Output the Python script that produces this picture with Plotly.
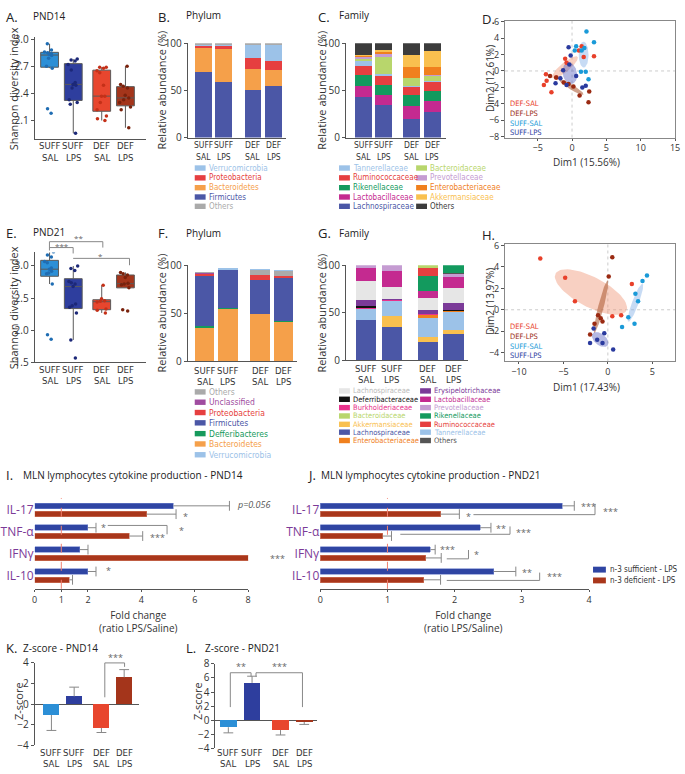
import numpy as np
import plotly.graph_objects as go

W, H = 685, 774
FONT = "Open Sans"
NARROW = "Liberation Sans Narrow, DejaVu Sans Condensed, Roboto Condensed, Roboto"

groups_top = ["SUFF", "SUFF", "DEF", "DEF"]
groups_bottom = ["SAL", "LPS", "SAL", "LPS"]
pos_box = [0, 1, 2.2, 3.2]
pos_bar = [0, 1, 2.4, 3.4]
group_colors = ["#2c8fd6", "#2e3e9e", "#e8462e", "#a4351b"]
point_colors = ["#1f6db3", "#1c2878", "#c43018", "#7a220c"]

# A. Shannon diversity PND14
sh14_suff_sal = [2.18, 2.23, 2.68, 2.70, 2.79, 2.82, 2.83, 2.84, 2.85, 2.86, 2.88, 2.95]
sh14_suff_lps = [1.96, 2.28, 2.30, 2.33, 2.46, 2.49, 2.50, 2.52, 2.66, 2.72, 2.76, 2.77, 2.78]
sh14_def_sal = [2.10, 2.12, 2.15, 2.22, 2.30, 2.37, 2.37, 2.49, 2.63, 2.65, 2.68, 2.69, 2.69]
sh14_def_lps = [2.02, 2.22, 2.25, 2.30, 2.33, 2.35, 2.38, 2.46, 2.48, 2.50, 2.70]

# E. Shannon diversity PND21
sh21_suff_sal = [1.86, 1.93, 2.72, 2.88, 2.89, 2.92, 2.95, 2.97, 3.05, 3.07, 3.14, 3.17, 3.22]
sh21_suff_lps = [1.57, 1.85, 2.27, 2.36, 2.38, 2.41, 2.68, 2.72, 2.74, 2.76, 2.93, 2.96, 3.00]
sh21_def_sal = [2.27, 2.31, 2.33, 2.44, 2.45, 2.46, 2.49, 2.70]
sh21_def_lps = [2.30, 2.32, 2.66, 2.71, 2.72, 2.73, 2.82, 2.86, 2.88, 2.90]

# B. Phylum PND14 (%), stacked bottom -> top
phy14_colors = ["#4b57a6", "#f5a04a", "#e63f40", "#9cc2e8", "#aaaaaa"]
phy14_firmicutes = [70, 59, 50, 55]
phy14_bacteroidetes = [25.5, 35.5, 22.5, 17]
phy14_proteobacteria = [2, 3, 12, 9]
phy14_verrucomicrobia = [0.3, 0.3, 14, 17.5]
phy14_others = [2.2, 2.2, 1.5, 1.5]

# C. Family PND14 (%)
fam14_colors = ["#4b57a6", "#c42a90", "#139a5e", "#e63f40", "#9cc2e8", "#b8d66c",
                "#c59cd2", "#f0801e", "#f9c04f", "#3c3c3c"]
fam14_lachno = [43, 35, 20, 27.5]
fam14_lacto = [12, 10.5, 14, 11]
fam14_riken = [11.5, 10.5, 11.5, 10.5]
fam14_rumino = [9.5, 9, 8, 10.3]
fam14_tanner = [5, 2, 1.5, 0.7]
fam14_bacteroid = [2.4, 19, 8, 5.5]
fam14_prevo = [2.1, 3, 0.5, 0.5]
fam14_entero = [1.5, 2.4, 11.5, 9]
fam14_akker = [0.5, 1, 13, 17]
fam14_others = [12.5, 7.6, 12, 8]

# F. Phylum PND21 (%)
phy21_colors = ["#f5a04a", "#169a5c", "#4b57a6", "#e63f40", "#a04ca0", "#aaaaaa", "#9cc2e8"]
phy21_bacteroidetes = [35.4, 55, 49.3, 41.5]
phy21_defferibacteres = [1.3, 0.8, 0.4, 0.7]
phy21_firmicutes = [52.3, 39.2, 35.3, 44.5]
phy21_proteobacteria = [2.5, 0.6, 5, 2.3]
phy21_unclassified = [1.0, 0.2, 0.2, 0.2]
phy21_others = [0.2, 0, 4.8, 5]
phy21_verrucomicrobia = [0, 0.2, 0.3, 0.6]

# G. Family PND21 (%)
fam21_colors = ["#4b57a6", "#f9c04f", "#9cc2e8", "#f0801e", "#e8328c", "#111111", "#7b3a98",
                "#e6e6e6", "#c42a90", "#c59cd2", "#555555", "#139a5e", "#e63f40", "#b8d66c"]
fam21_lachno = [43, 35.5, 19.7, 27.6]
fam21_akker = [0, 11, 5.3, 4.1]
fam21_tanner = [11.5, 16.5, 20, 19.3]
fam21_entero = [0, 0, 3, 1.4]
fam21_burk = [1, 1, 0.5, 0]
fam21_deferri = [1.5, 0, 0, 1]
fam21_erysip = [7, 1, 4, 6.9]
fam21_lachno_other = [19.4, 12, 13.1, 15.6]
fam21_lacto = [13.6, 17, 7.5, 12.1]
fam21_prevo = [3, 6, 0, 2.7]
fam21_others = [0, 0, 0, 1.3]
fam21_riken = [0, 0, 15.9, 8]
fam21_rumino = [0, 0, 8, 0]
fam21_bacteroid = [0, 0, 3, 0]

# D. PCA PND14
pca_names = ["DEF-SAL", "DEF-LPS", "SUFF-SAL", "SUFF-LPS"]
pca_colors = ["#e8402a", "#9a2a12", "#1a9ad8", "#2a3a9e"]
pca_fill = ["rgba(240,150,120,0.45)", "rgba(170,85,45,0.55)",
            "rgba(130,175,230,0.45)", "rgba(90,100,190,0.45)"]
d14_def_sal_x = [1.4, 1.0, 1.7, 3.2, -1.0, -0.8, -3.8, -4.1, -3.7, -3.0, -2.3]
d14_def_sal_y = [3.0, 2.5, 1.7, 1.8, 1.5, 1.0, -0.4, -1.7, -1.2, -2.6, -0.8]
d14_def_lps_x = [-3.2, -2.3, -1.2, 0.2, 1.1, 2.4, 2.5, -0.5]
d14_def_lps_y = [-0.6, -0.8, -1.4, -1.9, -3.0, -3.8, -2.5, -1.6]
d14_suff_sal_x = [2.1, 3.2, 0.6, 1.8, 0.4, 1.4, 1.3, 2.0, 2.4]
d14_suff_sal_y = [4.8, 3.5, 3.0, 2.8, 2.5, 2.5, -0.1, -0.1, -1.0]
d14_suff_lps_x = [-0.5, -0.2, -0.4, -1.3, 0.6, -1.7, -2.4, -0.8, 1.5, 2.0]
d14_suff_lps_y = [2.9, 1.9, 0.8, 0.1, -0.6, -0.9, -1.5, -1.7, -2.0, -1.8]

# H. PCA PND21
d21_def_sal_x = [-7.6, -4.8, -3.7, 2.7, 1.5, 0.5]
d21_def_sal_y = [4.8, 3.0, 0.8, 2.4, -0.5, -0.6]
d21_def_lps_x = [0.5, 0.1, -1.1, -0.8, -0.6, -1.5, -2.0]
d21_def_lps_y = [4.9, 3.1, -0.5, -0.8, -1.1, -1.3, -2.3]
d21_suff_sal_x = [4.4, 3.9, 3.1, 3.4, 2.3, 1.6, 3.0]
d21_suff_sal_y = [3.2, 2.7, 1.5, 0.8, -0.7, -1.6, -1.3]
d21_suff_lps_x = [-1.6, -0.4, -1.2, -2.0, -0.6, 0.6]
d21_suff_lps_y = [-1.75, -2.2, -2.8, -3.1, -3.1, -3.7]

# I / J. cytokines, fold change LPS/Saline
cytokines = ["IL-17", "TNF-α", "IFNγ", "IL-10"]
cyt_pos = [3, 2, 1, 0]
i_suff = [5.2, 2.0, 1.7, 2.0]
i_suff_err = [2.1, 0.3, 0.3, 0.3]
i_def = [4.2, 3.55, 8.2, 1.3]
i_def_err = [1.1, 0.5, 0.5, 0.12]
j_suff = [3.6, 2.38, 1.64, 2.58]
j_suff_err = [0.18, 0.16, 0.07, 0.33]
j_def = [1.79, 0.93, 1.57, 1.54]
j_def_err = [0.28, 0.13, 0.23, 0.25]

# K / L. Z-scores
k_z = [-1.05, 0.75, -2.3, 2.6]
k_err = [1.5, 0.9, 0.45, 0.75]
l_z = [-1.0, 5.3, -1.4, -0.25]
l_err = [0.8, 0.95, 0.7, 0.35]

fig = go.Figure()
layout = dict(width=W, height=H, margin=dict(l=0, r=0, t=0, b=0),
              paper_bgcolor="white", plot_bgcolor="white", showlegend=False,
              barmode="stack", font=dict(family=FONT, color="#333"))
annotations = []
shapes = []


def ids(n):
    return ("x", "y") if n == 1 else (f"x{n}", f"y{n}")


def axis(n, letter, a, b, rng, **kw):
    if letter == "x":
        dom = [a / W, b / W]
    else:
        dom = [1 - b / H, 1 - a / H]
    d = dict(domain=dom, range=rng, showgrid=False, zeroline=False, showline=True,
             linecolor="#555", linewidth=1, ticks="outside", ticklen=3, tickcolor="#555",
             tickangle=0, tickfont=dict(size=10, color="#333", family=FONT), fixedrange=True)
    d.update(kw)
    other = "y" if letter == "x" else "x"
    d["anchor"] = other if n == 1 else f"{other}{n}"
    layout[f"{letter}axis" + ("" if n == 1 else str(n))] = d


def txt(x, y, s, size=10, color="#333", xanchor="left", family=FONT, angle=0, xref="paper"):
    xv = x / W if xref == "paper" else x
    annotations.append(dict(x=xv, y=1 - y / H, xref=xref, yref="paper", text=s,
                            showarrow=False, xanchor=xanchor, yanchor="middle",
                            textangle=angle, font=dict(size=size, color=color, family=family)))


def line(x0, y0, x1, y1, color="#888", dash=None):
    shapes.append(dict(type="line", xref="paper", yref="paper", x0=x0 / W, y0=1 - y0 / H,
                       x1=x1 / W, y1=1 - y1 / H, line=dict(color=color, width=1, dash=dash)))


def swatch(x, y, color, w=11, h=6):
    shapes.append(dict(type="rect", xref="paper", yref="paper", x0=x / W, x1=(x + w) / W,
                       y0=1 - (y + h / 2) / H, y1=1 - (y - h / 2) / H,
                       fillcolor=color, line=dict(width=0)))


def group_labels(n, pos, y1, y2, size=9.5):
    xa, _ = ids(n)
    for p, a, b in zip(pos, groups_top, groups_bottom):
        txt(p, y1, a, size=size, xanchor="center", family=NARROW, xref=xa)
        txt(p, y2, b, size=size, xanchor="center", family=NARROW, xref=xa)


# ---------- A / E : box plots ----------
for n, data, yr, ytv, top, bot, ly in [
    (1, [sh14_suff_sal, sh14_suff_lps, sh14_def_sal, sh14_def_lps], [1.9, 3.02],
     [2.1, 2.4, 2.7, 3.0], 31, 134, (141, 153)),
    (5, [sh21_suff_sal, sh21_suff_lps, sh21_def_sal, sh21_def_lps], [1.5, 3.21],
     [1.5, 2.0, 2.5, 3.0], 250, 362, (369, 380))]:
    xa, ya = ids(n)
    for i, vals in enumerate(data):
        fig.add_trace(go.Box(x=[pos_box[i]] * len(vals), y=vals, xaxis=xa, yaxis=ya,
                             boxpoints="all", jitter=0.8, pointpos=0, width=0.75,
                             fillcolor=group_colors[i], line=dict(color="#5a5a5a", width=1),
                             whiskerwidth=0, marker=dict(color=point_colors[i], size=3.5)))
    axis(n, "x", 32, 145, [-0.63, 4.08], showticklabels=False, ticks="")
    axis(n, "y", top, bot, yr, tickvals=ytv, ticktext=[f"{v:.1f}" for v in ytv])
    group_labels(n, pos_box, *ly)

# ---------- B C F G : stacked bars ----------
stacks = [
    (2, [phy14_firmicutes, phy14_bacteroidetes, phy14_proteobacteria, phy14_verrucomicrobia,
         phy14_others], phy14_colors, (187, 286, 202.5, 21), (37, 133), 0.81, (141, 153), 8.5),
    (3, [fam14_lachno, fam14_lacto, fam14_riken, fam14_rumino, fam14_tanner, fam14_bacteroid,
         fam14_prevo, fam14_entero, fam14_akker, fam14_others], fam14_colors,
     (347, 448, 364.5, 20.5), (37, 133), 0.83, (141, 153), 8.5),
    (6, [phy21_bacteroidetes, phy21_defferibacteres, phy21_firmicutes, phy21_proteobacteria,
         phy21_unclassified, phy21_others, phy21_verrucomicrobia], phy21_colors,
     (187, 297, 204, 23.5), (263, 361), 0.85, (370, 381), 9.5),
    (7, [fam21_lachno, fam21_akker, fam21_tanner, fam21_entero, fam21_burk, fam21_deferri,
         fam21_erysip, fam21_lachno_other, fam21_lacto, fam21_prevo, fam21_others, fam21_riken,
         fam21_rumino, fam21_bacteroid], fam21_colors, (347, 470, 367.5, 26), (263, 360), 0.8,
     (368, 379), 9.5),
]
for n, series, cols, (x0, x1, c0, unit), (top, bot), bw, ly, gsize in stacks:
    xa, ya = ids(n)
    for vals, col in zip(series, cols):
        fig.add_trace(go.Bar(x=pos_bar, y=vals, xaxis=xa, yaxis=ya, width=bw,
                             marker=dict(color=col, line=dict(width=0))))
    axis(n, "x", x0, x1, [(x0 - c0) / unit, (x1 - c0) / unit], showticklabels=False, ticks="")
    axis(n, "y", top, bot, [0, 100], tickvals=[0, 50, 100])
    group_labels(n, pos_bar, *ly, size=gsize)


# ---------- D H : PCA ----------
def conf_ellipse(xs, ys):
    pts = np.array([xs, ys], dtype=float)
    m = pts.mean(axis=1)
    vals, vecs = np.linalg.eigh(np.cov(pts))
    r = np.sqrt(5.991 * np.clip(vals, 1e-6, None) / pts.shape[1])
    t = np.linspace(0, 2 * np.pi, 80)
    e = vecs @ np.array([np.cos(t) * r[0], np.sin(t) * r[1]]) + m[:, None]
    return e[0], e[1]


pca_legend = "<br>".join(f"<span style='color:{c}'>{nm}</span>"
                         for nm, c in zip(pca_names, pca_colors))
pca_sets = [
    (4, [(d14_def_sal_x, d14_def_sal_y), (d14_def_lps_x, d14_def_lps_y),
         (d14_suff_sal_x, d14_suff_sal_y), (d14_suff_lps_x, d14_suff_lps_y)],
     (14, 133), [-9.75, 15], [-8.12, 6.12], list(range(-5, 16, 5)), list(range(-8, 7, 2)),
     "Dim1 (15.56%)", "Dim2 (12.61%)", 158, 73, 113),
    (8, [(d21_def_sal_x, d21_def_sal_y), (d21_def_lps_x, d21_def_lps_y),
         (d21_suff_sal_x, d21_suff_sal_y), (d21_suff_lps_x, d21_suff_lps_y)],
     (241, 361), [-11.56, 7.56], [-4.83, 6.18], [-10, -5, 0, 5], list(range(-4, 7, 2)),
     "Dim1 (17.43%)", "Dim2 (13.97%)", 387, 300, 340),
]
for n, sets, (top, bot), xr, yr, xt, yt, xtitle, ytitle, xty, yty, legy in pca_sets:
    xa, ya = ids(n)
    for (xs, ys), fc in zip(sets, pca_fill):
        ex, ey = conf_ellipse(xs, ys)
        fig.add_trace(go.Scatter(x=ex, y=ey, xaxis=xa, yaxis=ya, mode="lines", fill="toself",
                                 fillcolor=fc, line=dict(width=0), hoverinfo="skip"))
    for (xs, ys), col in zip(sets, pca_colors):
        fig.add_trace(go.Scatter(x=xs, y=ys, xaxis=xa, yaxis=ya, mode="markers",
                                 marker=dict(color=col, size=4.5)))
    axis(n, "x", 508, 680, xr, tickvals=xt, mirror=True, linecolor="#888", ticklen=2,
         tickfont=dict(size=9, color="#333", family=FONT))
    axis(n, "y", top, bot, yr, tickvals=yt, mirror=True, linecolor="#888",
         tickfont=dict(size=9, color="#333", family=FONT))
    shapes.append(dict(type="line", xref=xa, yref=f"{ya} domain", x0=0, x1=0, y0=0, y1=1,
                       line=dict(color="#cccccc", width=1, dash="dot"), layer="below"))
    shapes.append(dict(type="line", xref=f"{xa} domain", yref=ya, x0=0, x1=1, y0=0, y1=0,
                       line=dict(color="#cccccc", width=1, dash="dot"), layer="below"))
    txt(590, xty, xtitle, size=10, xanchor="center")
    txt(492, yty, ytitle, size=10, xanchor="center", angle=-90)
    annotations.append(dict(x=511 / W, y=1 - legy / H, xref="paper", yref="paper",
                            text=pca_legend, showarrow=False, xanchor="left", yanchor="middle",
                            align="left", font=dict(size=7.5, family=NARROW)))


# ---------- whisker helper ----------
def whiskers(xa, ya, pos, vals, errs, horizontal=True):
    lx, ly, cx, cy = [], [], [], []
    for p, v, e in zip(pos, vals, errs):
        end = v + e if v >= 0 else v - e
        if horizontal:
            lx += [v, end, None]
            ly += [p, p, None]
            cx.append(end)
            cy.append(p)
        else:
            lx += [p, p, None]
            ly += [v, end, None]
            cx.append(p)
            cy.append(end)
    fig.add_trace(go.Scatter(x=lx, y=ly, xaxis=xa, yaxis=ya, mode="lines",
                             line=dict(color="#888", width=1), hoverinfo="skip"))
    fig.add_trace(go.Scatter(x=cx, y=cy, xaxis=xa, yaxis=ya, mode="markers",
                             marker=dict(symbol="line-ns" if horizontal else "line-ew", size=7,
                                         line=dict(color="#888", width=1)), hoverinfo="skip"))


# ---------- I J : cytokines ----------
for n, suff, serr, dff, derr, (x0, x1), xr, xtv, cx in [
    (9, i_suff, i_suff_err, i_def, i_def_err, (32, 248), [0, 8], [0, 1, 2, 4, 6, 8], 137),
    (10, j_suff, j_suff_err, j_def, j_def_err, (321, 593), [0, 4], [0, 1, 2, 3, 4], 466)]:
    xa, ya = ids(n)
    yb = [p + 0.19 for p in cyt_pos]
    yr_ = [p - 0.19 for p in cyt_pos]
    fig.add_trace(go.Bar(x=suff, y=yb, orientation="h", width=0.25, xaxis=xa, yaxis=ya,
                         marker=dict(color="#2f45a3", line=dict(color="#6f82cc", width=0.6))))
    fig.add_trace(go.Bar(x=dff, y=yr_, orientation="h", width=0.25, xaxis=xa, yaxis=ya,
                         marker=dict(color="#a9361b", line=dict(color="#d07a60", width=0.6))))
    whiskers(xa, ya, yb, suff, serr)
    whiskers(xa, ya, yr_, dff, derr)
    axis(n, "x", x0, x1, xr, tickvals=xtv, ticklen=2,
         tickfont=dict(size=9, color="#333", family=FONT))
    axis(n, "y", 500, 592.5, [-0.6, 3.55], tickvals=cyt_pos, ticktext=cytokines, ticks="",
         showline=False, tickfont=dict(size=12, color="#7b3a98", family=FONT))
    shapes.append(dict(type="line", xref=xa, yref=f"{ya} domain", x0=1, x1=1, y0=0, y1=1,
                       line=dict(color="#f08070", width=1, dash="dash")))
    txt(cx, 626, "Fold change<br>(ratio LPS/Saline)", size=10, xanchor="center")

# ---------- K L : z-scores ----------
for n, z, ze, (x0, x1, c0, unit), (top, bot), yr, ytv in [
    (11, k_z, k_err, (32, 138, 49, 23), (668, 752), [-4, 4], [-4, -2, 0, 2, 4]),
    (12, l_z, l_err, (215, 318, 228, 24), (669, 755), [-4, 8], list(range(-4, 9, 2)))]:
    xa, ya = ids(n)
    fig.add_trace(go.Bar(x=pos_box, y=z, width=0.7, xaxis=xa, yaxis=ya,
                         marker=dict(color=group_colors, line=dict(width=0))))
    whiskers(xa, ya, pos_box, z, ze, horizontal=False)
    axis(n, "x", x0, x1, [(x0 - c0) / unit, (x1 - c0) / unit], showticklabels=False,
         ticks="", showline=False)
    axis(n, "y", top, bot, yr, tickvals=ytv, zeroline=True, zerolinecolor="#555",
         zerolinewidth=1)
    group_labels(n, pos_box, 759, 770)

# ---------- panel titles ----------
for x, y, s in [(1, 10, "A."), (155, 10, "B."), (317, 10, "C."), (483, 12, "D."),
                (1, 230, "E."), (155, 230, "F."), (317, 230, "G."), (483, 232, "H."),
                (1, 477, "I."), (306, 477, "J."), (1, 653, "K."), (183, 653, "L.")]:
    txt(x, y, s, size=13, color="#222")
for x, y, s in [(28, 9, "PND14"), (183, 8, "Phylum"), (338, 8, "Family"),
                (28, 229, "PND21"), (183, 230, "Phylum"), (338, 230, "Family"),
                (18, 477, "MLN lymphocytes cytokine production - PND14"),
                (320, 477, "MLN lymphocytes cytokine production - PND21"),
                (18, 653, "Z-score - PND14"), (202, 653, "Z-score - PND21")]:
    txt(x, y, s, size=10, color="#222")

# axis titles
txt(11, 83, "Shannon diversity index", size=11, xanchor="center", angle=-90)
txt(11, 306, "Shannon diversity index", size=11, xanchor="center", angle=-90)
txt(160, 85, "Relative abundance (%)", size=11, xanchor="center", angle=-90)
txt(322, 85, "Relative abundance (%)", size=11, xanchor="center", angle=-90)
txt(160, 312, "Relative abundance (%)", size=11, xanchor="center", angle=-90)
txt(322, 312, "Relative abundance (%)", size=11, xanchor="center", angle=-90)
txt(15, 707, "Z-score", size=11, xanchor="center", angle=-90)
txt(197, 707, "Z-score", size=11, xanchor="center", angle=-90)


# ---------- manual legends ----------
def legend_col(x, rows, names, cols, size=8):
    for yy, nm, c in zip(rows, names, cols):
        swatch(x, yy, c, h=5.5)
        txt(x + 12, yy, nm, size=size, color="#bbbbbb" if c == "#e6e6e6" else c,
            family=NARROW)


rowsB = [164, 174, 184, 193.5, 203]
legend_col(194, rowsB, ["Verrucomicrobia", "Proteobacteria", "Bacteroidetes", "Firmicutes",
                        "Others"],
           ["#9cc2e8", "#e63f40", "#f5a04a", "#4b57a6", "#aaaaaa"])
legend_col(340, rowsB, ["Tannerellaceae", "Ruminococcaceae", "Rikenellaceae",
                        "Lactobacillaceae", "Lachnospiraceae"],
           ["#9cc2e8", "#e63f40", "#139a5e", "#c42a90", "#4b57a6"])
legend_col(418, rowsB, ["Bacteroidaceae", "Prevotellaceae", "Enterobacteriaceae",
                        "Akkermansiaceae", "Others"],
           ["#b8d66c", "#c59cd2", "#f0801e", "#f9c04f", "#3c3c3c"])
rowsF = [392, 402.5, 413, 423.5, 434.5, 445, 456]
legend_col(194, rowsF, ["Others", "Unclassified", "Proteobacteria", "Firmicutes",
                        "Defferibacteres", "Bacteroidetes", "Verrucomicrobia"],
           ["#aaaaaa", "#a04ca0", "#e63f40", "#4b57a6", "#169a5c", "#f5a04a", "#9cc2e8"],
           size=8.5)
rowsG = [391, 399.5, 408, 416.5, 425, 433, 441.5]
legend_col(340, rowsG, ["Lachnospiraceae", "Deferribacteraceae", "Burkholderiaceae",
                        "Bacteroidaceae", "Akkermansiaceae", "Lachnospiraceae",
                        "Enterobacteriaceae"],
           ["#e6e6e6", "#111111", "#e8328c", "#b8d66c", "#f9c04f", "#4b57a6", "#f0801e"],
           size=7.5)
legend_col(422, rowsG, ["Erysipelotrichaceae", "Lactobacillaceae", "Prevotellaceae",
                        "Rikenellaceae", "Ruminococcaceae", "Tannerellaceae", "Others"],
           ["#7b3a98", "#c42a90", "#c59cd2", "#139a5e", "#e63f40", "#9cc2e8", "#555555"],
           size=7.5)

# J legend
swatch(597, 573, "#2f45a3", w=13, h=6)
swatch(597, 584, "#a9361b", w=13, h=6)
txt(612, 573, "n-3 sufficient - LPS", size=8, family=NARROW)
txt(612, 584, "n-3 deficient - LPS", size=8, family=NARROW)

# ---------- significance marks ----------
SIG = "#666"
# E
line(47, 239, 101, 239); line(101, 239, 101, 245); line(47, 239, 47, 248)
line(47, 245, 71, 245); line(71, 245, 71, 251)
line(71, 256, 128, 256); line(128, 256, 128, 263)
txt(76, 235, "**", size=8, color=SIG, xanchor="center")
txt(60, 243, "***", size=8, color=SIG, xanchor="center")
txt(99, 253, "*", size=8, color=SIG, xanchor="center")
# I
annotations.append(dict(x=235 / W, y=1 - 507 / H, xref="paper", yref="paper",
                        text="<i>p=0.056</i>", showarrow=False, xanchor="left",
                        font=dict(size=9, color="#555", family=FONT)))
for x, y, s in [(180, 519, "*"), (97, 530, "*"), (176, 533, "*"), (147, 540, "***"),
                (268, 562, "***"), (102, 574, "*")]:
    txt(x, y, s, size=9, color=SIG)
line(106, 528, 166, 528); line(166, 528, 166, 537)
# J
for x, y, s in [(583, 509, "***"), (605, 514, "***"), (466, 519, "*"), (497, 531, "**"),
                (517, 535, "***"), (440, 553, "***"), (475, 558, "*"), (523, 576, "**"),
                (548, 580, "***")]:
    txt(x, y, s, size=9, color=SIG)
line(476, 517, 599, 517); line(599, 517, 599, 506)
line(402, 537, 513, 537); line(513, 537, 513, 529)
line(449, 562, 471, 562); line(471, 562, 471, 553)
line(449, 584, 543, 584); line(543, 584, 543, 576)
# K / L
txt(114, 662, "***", size=9, color=SIG, xanchor="center")
line(103, 668, 123, 668); line(103, 668, 103, 703); line(123, 668, 123, 672)
txt(241, 672, "**", size=9, color=SIG, xanchor="center")
line(230, 678, 251, 678); line(230, 678, 230, 713); line(251, 678, 251, 682)
txt(280, 672, "***", size=9, color=SIG, xanchor="center")
line(256, 678, 303, 678); line(303, 678, 303, 713); line(256, 678, 256, 682)

layout["annotations"] = annotations
layout["shapes"] = shapes
fig.update_layout(**layout)
fig.write_html("out.html", config={"displayModeBar": False},
               post_script="document.body.style.margin='0';")
